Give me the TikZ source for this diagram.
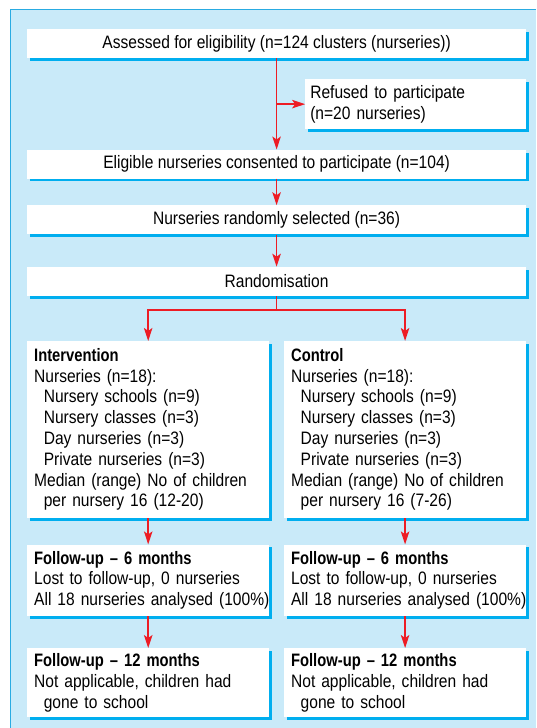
\documentclass[tikz,border=0pt]{standalone}
\usepackage{fontspec}
\setmainfont[FakeStretch=0.865, BoldFeatures={FakeStretch=0.82}]{Liberation Sans}
\usetikzlibrary{arrows.meta,shadows}
\definecolor{panelbg}{HTML}{C9EAF9}
\definecolor{panelln}{HTML}{29ABE2}
\definecolor{shadowc}{HTML}{00AEEF}
\definecolor{arrred}{HTML}{ED1C24}
\tikzset{
  box/.style={fill=white, draw=none, inner sep=0pt,
    copy shadow={shadow xshift=2.8pt, shadow yshift=-2.8pt, fill=shadowc, draw=none},
    font=\fontsize{18}{20.8}\selectfont},
  cbox/.style={box, align=center, minimum width=498.4pt},
  lbox/.style={box, align=left, inner xsep=6.8pt, text width=228pt, minimum width=241.6pt},
  arr/.style={draw=arrred, line width=1.5pt, -{Stealth[length=13pt,width=8.5pt,inset=3pt]}},
}
\newcommand{\ind}{\hspace*{9.6pt}}
\newcommand{\wideline}[1]{\makebox[228pt][l]{#1}}
\begin{document}
\begin{tikzpicture}[x=1pt,y=-1pt]
\useasboundingbox (0,0) rectangle (536,728);
\fill[panelbg] (10.3,9.2) rectangle (536,728);
\draw[panelln, line width=1pt] (10.3,728) -- (10.3,9.2) -- (536,9.2);

\node[cbox, minimum height=29pt] (a1) at (276.6,43.5) {Assessed for eligibility (n=124 clusters (nurseries))};
\node[box, align=left, inner xsep=5pt, text width=210.5pt, minimum width=220.5pt, minimum height=49.7pt] (ref) at (415.55,104.15) {Refused to participate\\(n=20 nurseries)};
\node[cbox, minimum height=28.8pt] (el) at (276.6,164.1) {Eligible nurseries consented to participate (n=104)};
\node[cbox, minimum height=29pt] (sel) at (276.6,219.9) {Nurseries randomly selected (n=36)};
\node[cbox, minimum height=29.1pt] (rnd) at (276.6,281.45) {Randomisation};

\node[lbox, minimum height=176.7pt] (int) at (148.2,429.5) {\textbf{Intervention}\\Nurseries (n=18):\\\ind Nursery schools (n=9)\\\ind Nursery classes (n=3)\\\ind Day nurseries (n=3)\\\ind Private nurseries (n=3)\\Median (range) No of children\\\ind per nursery 16 (12-20)};
\node[lbox, minimum height=176.7pt] (ctl) at (405.1,429.5) {\textbf{Control}\\Nurseries (n=18):\\\ind Nursery schools (n=9)\\\ind Nursery classes (n=3)\\\ind Day nurseries (n=3)\\\ind Private nurseries (n=3)\\Median (range) No of children\\\ind per nursery 16 (7-26)};

\node[lbox, minimum height=71.2pt] (f6i) at (148.2,580.2) {\textbf{Follow-up -- 6 months}\\Lost to follow-up, 0 nurseries\\\wideline{All 18 nurseries analysed (100\%)}};
\node[lbox, minimum height=71.2pt] (f6c) at (405.1,580.2) {\textbf{Follow-up -- 6 months}\\Lost to follow-up, 0 nurseries\\\wideline{All 18 nurseries analysed (100\%)}};

\node[lbox, minimum height=69.1pt] (f12i) at (148.2,682.75) {\textbf{Follow-up -- 12 months}\\Not applicable, children had\\\ind gone to school};
\node[lbox, minimum height=69.1pt] (f12c) at (405.1,682.75) {\textbf{Follow-up -- 12 months}\\Not applicable, children had\\\ind gone to school};

\coordinate (br) at (a1.south |- ref.west);
\draw[arr] (a1.south) -- (el.north);
\draw[arr] (br) -- (ref.west);
\draw[arr] (el.south) -- (sel.north);
\draw[arr] (sel.south) -- (rnd.north);
\coordinate (sp) at (276.6,310);
\draw[arr] (rnd.south) -- (sp) -| (int.north);
\draw[arr] (sp) -| (ctl.north);
\draw[arr] (int.south) -- (f6i.north);
\draw[arr] (ctl.south) -- (f6c.north);
\draw[arr] (f6i.south) -- (f12i.north);
\draw[arr] (f6c.south) -- (f12c.north);
\end{tikzpicture}
\end{document}
